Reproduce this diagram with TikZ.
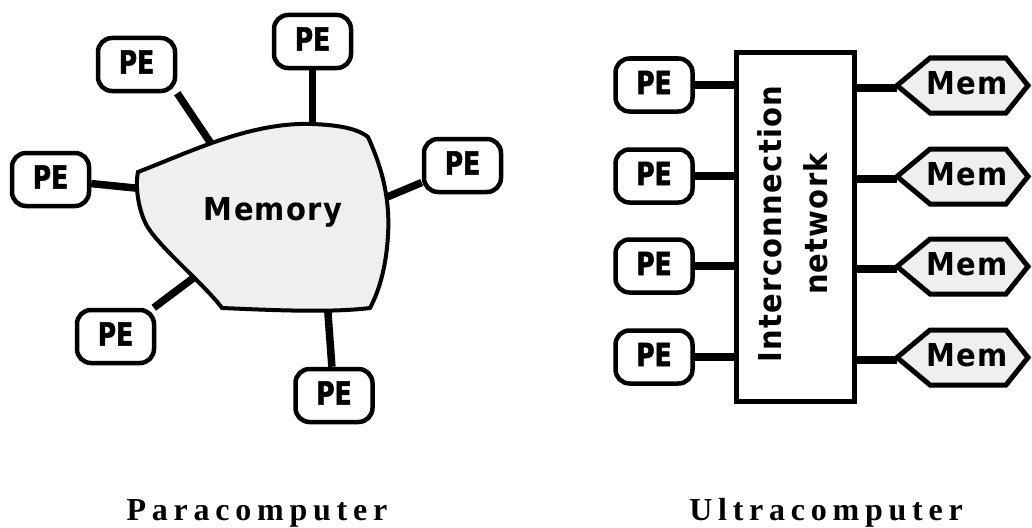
\documentclass[tikz,border=0pt]{standalone}
\usepackage{fontspec}
\newfontfamily\pefont{DejaVu Sans}[FakeStretch=0.78,FakeBold=1.5]
\newfontfamily\labfont{DejaVu Sans}[FakeStretch=0.92,LetterSpace=4]
\newfontfamily\capfont{Liberation Serif}[LetterSpace=18]
\definecolor{memfill}{HTML}{EFEFEF}
\pgfdeclarelayer{bg}
\pgfsetlayers{bg,main}
\begin{document}
\begin{tikzpicture}[x=1pt,y=-1pt,
  pebox/.style={draw,line width=4.5pt,rounded corners=14pt,fill=white,
    minimum width=77pt,minimum height=53pt,inner sep=0pt,
    text height=23.3pt,text depth=5pt,
    font=\pefont\bfseries\fontsize{32}{32}\selectfont},
  link/.style={line width=7.5pt},
  lbl/.style={inner sep=0pt,font=\labfont\bfseries\fontsize{31.5}{46}\selectfont},
  captxt/.style={anchor=base,inner sep=0pt,font=\capfont\bfseries\fontsize{32}{33}\selectfont},
  hexline/.style={line width=5pt,fill=memfill,line join=miter}]
\useasboundingbox (0,0) rectangle (1032,527);

% ---------------- Paracomputer ----------------
\node[pebox] (pa) at (136.5,64.5) {PE};
\node[pebox] (pb) at (312.5,41.5) {PE};
\node[pebox] (pc) at (50.5,179.5) {PE};
\node[pebox] (pd) at (462.5,165.5) {PE};
\node[pebox] (pe) at (115.5,336.5) {PE};
\node[pebox] (pf) at (334,395.5) {PE};

% attachment points just inside the shared memory
\coordinate (ma) at (214,148);
\coordinate (mb) at (313,135);
\coordinate (mc) at (145,189);
\coordinate (md) at (380,200);
\coordinate (me) at (200,273);
\coordinate (mf) at (327,300);

\begin{pgfonlayer}{bg}
  \draw[link] (pa.south east) -- (ma);
  \draw[link] (pb) -- (pb |- mb);
  \draw[link] (pc) -- (mc);
  \draw[link] (pd) -- (md);
  \draw[link] (pe) -- (me);
  \draw[link] (pf) -- (mf);
\end{pgfonlayer}

% shared memory outline
\draw[line width=4pt,fill=memfill]
  (138,172) .. controls (190,152) and (250,122) .. (312,124)
  .. controls (340,125) and (358,129) .. (368,137)
  .. controls (383,170) and (390,200) .. (388,235)
  .. controls (386,270) and (378,293) .. (370,308)
  .. controls (330,313) and (270,310) .. (222,308)
  .. controls (205,285) and (160,248) .. (147,226)
  .. controls (138,210) and (135,185) .. cycle;
\node[lbl] (mem) at (273,212) {Memory};

\node[captxt] (para) at (257,520) {Paracomputer};

% ---------------- Ultracomputer ----------------
\node[draw,line width=5pt,fill=white,minimum width=118pt,minimum height=349pt,
  inner sep=0pt] (net) at (795.5,227) {};
\node[lbl,rotate=90,align=center] (netlabel) at (793,224)
  {Interconnection\\network};

\foreach \i/\c in {1/85,2/176,3/266,4/357}{
  \node[pebox] (q\i) at (654,\c) {PE};
  \coordinate (t\i) at (897,\c+0.5);
  \begin{pgfonlayer}{bg}
    \draw[link] (q\i) -- (q\i -| net);
    \draw[link] ([yshift=-2.5pt]t\i -| net) -- ([yshift=-2.5pt]t\i);
  \end{pgfonlayer}
  \draw[hexline] (t\i) -- ++(33,-27.5) -- ++(76,0) -- ++(22,27.5)
    -- ++(-22,27.5) -- ++(-76,0) -- cycle;
  \node[lbl] (m\i) at (967,\c-1.5) {Mem};
}

\node[captxt] (ultra) at (826,520) {Ultracomputer};
\end{tikzpicture}
\end{document}
